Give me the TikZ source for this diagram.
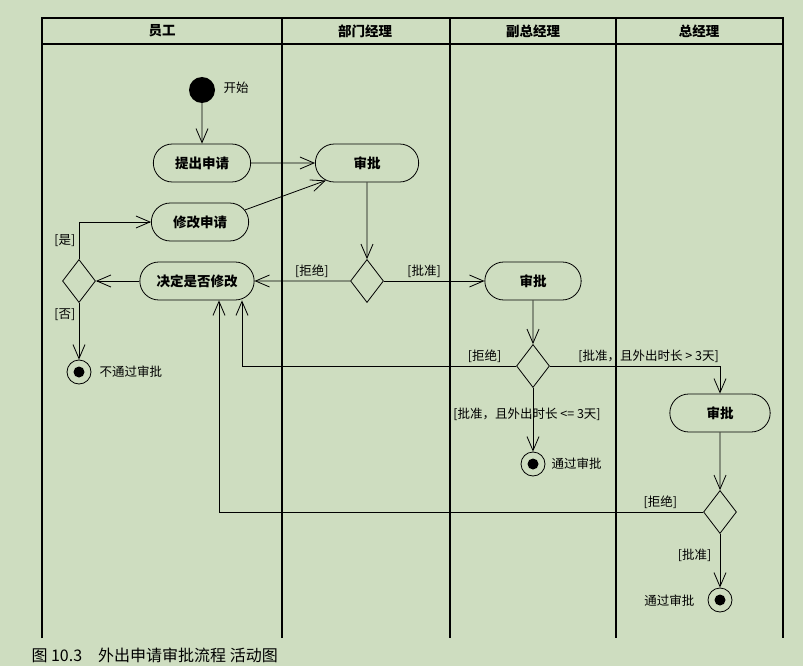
\documentclass[tikz,border=0pt]{standalone}
\usepackage{fontspec}
\newfontfamily\cjk{Noto Sans CJK SC}
\usetikzlibrary{arrows.meta,shapes.geometric,shapes.misc}
\definecolor{paper}{RGB}{206,221,192}
\begin{document}
\begin{tikzpicture}[
        x=1pt, y=-1pt,
        act/.style={rounded rectangle, draw, line width=0.8pt, minimum height=38pt, font=\cjk\bfseries\fontsize{13.5}{15}\selectfont},
        dec/.style={diamond, draw, line width=0.8pt, minimum width=33pt, minimum height=43pt, inner sep=0pt},
        startnode/.style={circle, fill=black, minimum size=26pt, inner sep=0pt},
        endnode/.style={circle, draw, line width=0.8pt, minimum size=24pt, inner sep=0pt,
            path picture={\fill (path picture bounding box.center) circle (5.5pt);}},
        lane/.style={line width=1.3pt},
        head/.style={font=\cjk\bfseries\fontsize{13.5}{15}\selectfont},
        guard/.style={font=\cjk\fontsize{12.5}{14}\selectfont},
        arrow/.style={-{Straight Barb[length=14pt,width=12pt]}, line width=0.8pt}
    ]
        \fill[paper] (0,0) rectangle (803,666);
        \useasboundingbox (0,0) rectangle (803,666);

        % Swimlanes
        \draw[lane] (42,638) -- (42,18) -- (783,18) -- (783,638);
        \draw[lane] (42,44) -- (783,44);
        \draw[lane] (282,18) -- (282,638);
        \draw[lane] (450,18) -- (450,638);
        \draw[lane] (616,18) -- (616,638);
        \node[head] (hdrStaff) at (162,31) {员工};
        \node[head] (hdrDept) at (365,31) {部门经理};
        \node[head] (hdrVp) at (533,31) {副总经理};
        \node[head] (hdrGm) at (699,31) {总经理};

        % Activities
        \node[startnode] (start) at (202,90) {};
        \node[guard, anchor=west] (startLbl) at (220,88) {开始};
        \node[act, minimum width=104pt] (submit) at (202,163) {提出申请};
        \node[act, minimum width=110pt] (deptAppr) at (367,163) {审批};
        \node[act, minimum width=104pt] (modify) at (200,222) {修改申请};
        \node[act, minimum width=121pt] (decide) at (197,281) {决定是否修改};
        \node[dec] (decLeft) at (79,281) {};
        \node[dec] (decDept) at (367,281) {};
        \node[act, minimum width=103pt] (vpAppr) at (533,281) {审批};
        \node[dec] (decVp) at (533,366) {};
        \node[act, minimum width=107pt] (gmAppr) at (720,413) {审批};
        \node[dec] (decGm) at (720,512) {};
        \node[endnode] (endReject) at (79,372) {};
        \node[endnode] (endVp) at (533,464) {};
        \node[endnode] (endGm) at (720,600) {};
        \node[guard, anchor=west] (rejectLbl) at (96,372) {不通过审批};
        \node[guard, anchor=west] (passVpLbl) at (548,464) {通过审批};
        \node[guard, anchor=east] (passGmLbl) at (698,601) {通过审批};

        % Arrows
        \draw[arrow] (start) -- (submit);
        \draw[arrow] (submit) -- (deptAppr);
        \draw[arrow] (modify.15) -- (deptAppr.203);
        \draw[arrow] (deptAppr) -- (decDept);
        \draw[arrow] (decDept) -- node[guard, above, pos=0.4] {[拒绝]} (decide);
        \draw[arrow] (decDept) -- node[guard, above, pos=0.4] {[批准]} (vpAppr);
        \draw[arrow] (decide) -- (decLeft);
        \draw[arrow] (decLeft.north) |- node[guard, left, pos=0.25] {[是]} (modify.west);
        \draw[arrow] (decLeft) -- node[guard, left, pos=0.2] {[否]} (endReject);
        \draw[arrow] (vpAppr) -- (decVp);
        \draw[arrow] (decVp.west) -| node[guard, anchor=south east, pos=0.02] {[拒绝]} ([xshift=45pt]decide.south);
        \draw[arrow] (decVp.east) -| node[guard, above, pos=0.29] {[批准，且外出时长 > 3天]} (gmAppr);
        \draw[arrow] (decVp) -- node[guard, pos=0.42, xshift=-6pt] {[批准，且外出时长 <= 3天]} (endVp);
        \draw[arrow] (gmAppr) -- (decGm);
        \draw[arrow] (decGm.west) -| node[guard, anchor=south east, pos=0.023] {[拒绝]} ([xshift=22pt]decide.south);
        \draw[arrow] (decGm) -- node[guard, left, pos=0.39, xshift=-5pt] {[批准]} (endGm);

        % Caption
        \node[anchor=west, font=\cjk\fontsize{16}{18}\selectfont] (caption) at (28,655) {图 10.3\quad 外出申请审批流程 活动图};
    \end{tikzpicture}
\end{document}
